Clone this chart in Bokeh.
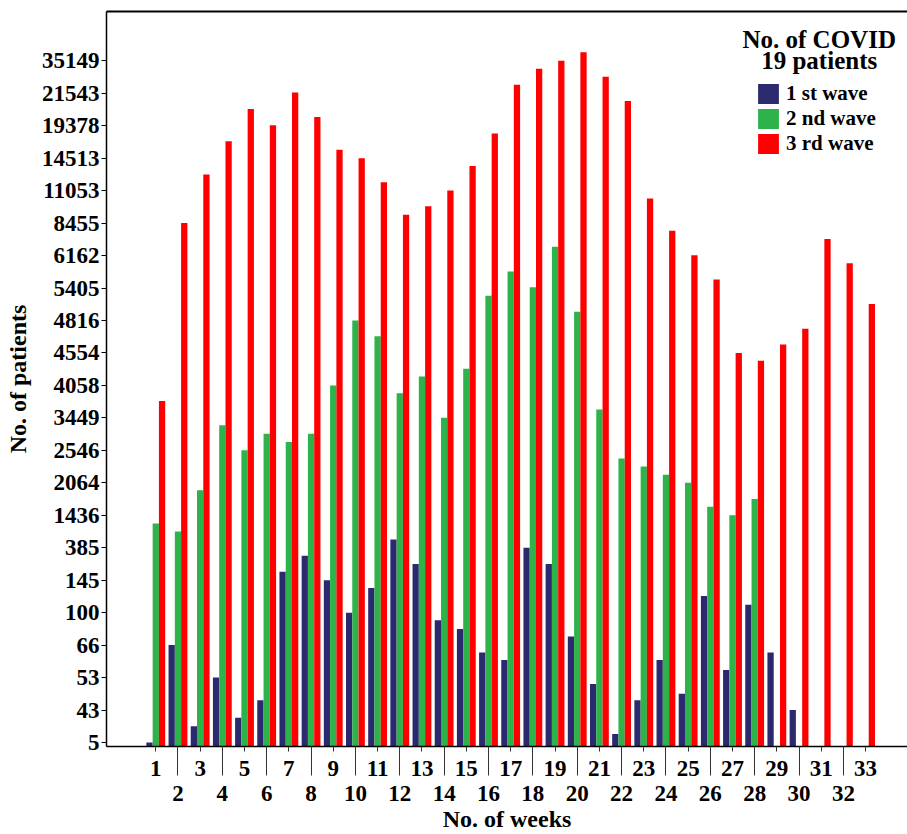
import numpy as np
from bokeh.plotting import figure
from bokeh.models import (ColumnDataSource, FixedTicker, LinearAxis, Legend,
                          LegendItem, Label, Range1d)
from bokeh.transform import dodge
from bokeh.embed import file_html
from bokeh.resources import INLINE

# ---------------- data ----------------
weeks = list(range(1, 34))
y_tick_values = [5, 43, 53, 66, 100, 145, 385, 1436, 2064, 2546, 3449, 4058,
                 4554, 4816, 5405, 6162, 8455, 11053, 14513, 19378, 21543, 35149]

wave1 = [5, 66, 24, 53, 34, 46, 207, 325, 145, 100, 134, 648, 265, 92, 83, 63,
         60, 385, 265, 75, 51, 15, 46, 60, 48, 123, 56, 111, 63, 43,
         None, None, None]
wave2 = [1173, 910, 1920, 3241, 2546, 3007, 2781, 3007, 4058, 4816, 4688, 3912,
         4192, 3449, 4311, 5264, 5791, 5420, 6781, 4975, 3607, 2425, 2305, 2184,
         2064, 1599, 1436, 1750, None, None, None, None, None]
wave3 = [3766, 8455, 12783, 17043, 20482, 19400, 21815, 19960, 15780, 14513,
         11950, 9130, 9800, 11053, 13680, 18210, 25080, 31750, 35200, 38700,
         28480, 21023, 10430, 7905, 6180, 5602, 4554, 4435, 4622, 4750, 7332,
         5980, 5116]

series_names = ["1 st wave", "2 nd wave", "3 rd wave"]
colors = ["#2B2A6E", "#2DB34A", "#FF0000"]

# ---------------- ordinal (piecewise-linear) value axis ----------------
tick_idx = np.arange(len(y_tick_values), dtype=float)


def to_pos(values):
    v = np.asarray(values, dtype=float)
    pos = np.interp(v, y_tick_values, tick_idx)
    slope = 1.0 / (y_tick_values[-1] - y_tick_values[-2])
    return np.where(v > y_tick_values[-1],
                    tick_idx[-1] + (v - y_tick_values[-1]) * slope, pos)


FONT = "Liberation Serif"
Y0 = -0.123

p = figure(width=907, height=834, output_backend="svg", toolbar_location=None,
           x_range=Range1d(-1.222, 34.89), y_range=Range1d(Y0, 22.517),
           min_border_left=106, min_border_right=0, min_border_top=11,
           min_border_bottom=0)
p.outline_line_color = None
p.xgrid.visible = False
p.ygrid.visible = False
p.background_fill_color = "white"

bar_w = 0.283
offsets = [-bar_w, 0.0, bar_w]
renderers = []
for vals, off, col in zip([wave1, wave2, wave3], offsets, colors):
    wk = [w for w, v in zip(weeks, vals) if v is not None]
    vv = [v for v in vals if v is not None]
    src = ColumnDataSource(dict(week=wk, value=vv, top=to_pos(vv)))
    r = p.vbar(x=dodge("week", off, range=p.x_range), top="top", bottom=Y0,
               width=bar_w, source=src, fill_color=col, line_color=None)
    renderers.append(r)

# ---------------- axes ----------------
yax = p.yaxis[0]
yax.ticker = FixedTicker(ticks=list(tick_idx))
yax.major_label_overrides = {int(i): str(v) for i, v in zip(tick_idx, y_tick_values)}
yax.minor_tick_line_color = None
yax.major_tick_out = 5
yax.major_tick_in = 0
yax.major_label_standoff = 2
yax.major_label_text_font = FONT
yax.major_label_text_font_style = "bold"
yax.major_label_text_font_size = "23px"
yax.major_label_text_color = "black"
yax.axis_line_width = 1.5
yax.axis_line_color = "black"
yax.axis_label = "No. of patients"
yax.axis_label_text_font = FONT
yax.axis_label_text_font_style = "bold"
yax.axis_label_text_font_size = "24px"
yax.axis_label_text_color = "black"
yax.axis_label_standoff = 8

xax = p.xaxis[0]
xax.ticker = FixedTicker(ticks=weeks, minor_ticks=[w for w in weeks if w % 2 == 0])
xax.major_label_overrides = {w: (str(w) if w % 2 else "\n" + str(w)) for w in weeks}
xax.major_tick_out = 5
xax.major_tick_in = 0
xax.minor_tick_out = 29
xax.minor_tick_in = 0
xax.major_tick_line_color = "#333333"
xax.minor_tick_line_color = "#333333"
xax.major_label_standoff = -20
xax.major_label_text_font = FONT
xax.major_label_text_font_style = "bold"
xax.major_label_text_font_size = "23px"
xax.major_label_text_line_height = 1.0
xax.major_label_text_color = "black"
xax.axis_line_width = 1.5
xax.axis_line_color = "black"
xax.axis_label = "No. of weeks"
xax.axis_label_text_font = FONT
xax.axis_label_text_font_style = "bold"
xax.axis_label_text_font_size = "24px"
xax.axis_label_text_color = "black"
xax.axis_label_standoff = -3

top_ax = LinearAxis(ticker=FixedTicker(ticks=[]), major_tick_out=0, major_tick_in=0,
                    minor_tick_out=0, minor_tick_in=0, major_label_standoff=0,
                    axis_line_width=2, axis_line_color="black",
                    major_label_text_font_size="0px")
p.add_layout(top_ax, "above")

# ---------------- legend ----------------
legend = Legend(items=[LegendItem(label=n, renderers=[r])
                       for n, r in zip(series_names, renderers)],
                location=(649, 590), border_line_color=None,
                background_fill_alpha=0, padding=0, spacing=0, margin=0,
                glyph_width=26, glyph_height=25, label_height=25,
                label_standoff=5, label_text_font=FONT,
                label_text_font_style="bold", label_text_font_size="21px",
                label_text_color="black")
p.add_layout(legend)

for txt, yy in [("No. of COVID", 707.5), ("19 patients", 685.8)]:
    p.add_layout(Label(x=712.7, y=yy, x_units="screen", y_units="screen",
                       text=txt, text_align="center", text_baseline="middle",
                       text_font=FONT, text_font_style="bold",
                       text_font_size="25px", text_color="black"))

open("out.html", "w").write(file_html(p, INLINE))
